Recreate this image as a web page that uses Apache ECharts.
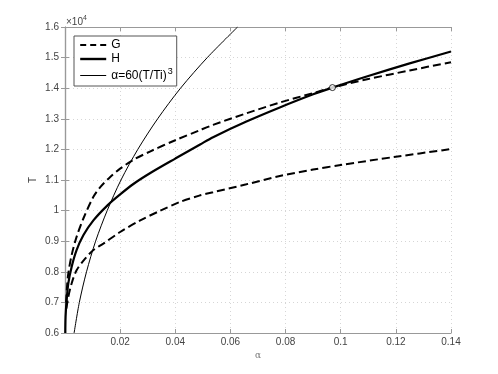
<!DOCTYPE html>
<html>
<head>
<meta charset="utf-8">
<script src="https://cdn.jsdelivr.net/npm/echarts@6/dist/echarts.min.js"></script>
<style>
  html, body { margin: 0; padding: 0; background: #fff; }
  #main { width: 498px; height: 374px; }
</style>
</head>
<body>
<div id="main"></div>
<script>
// upper dashed G curve
var gUpperAlpha = [0.0004, 0.0008, 0.0012, 0.0024, 0.0042, 0.0067, 0.0103, 0.0128, 0.0164, 0.02, 0.0248, 0.0308, 0.04, 0.0487, 0.0537, 0.0658, 0.0779, 0.09, 0.097, 0.11, 0.125, 0.14];
var gUpperT = [7000, 7600, 7950, 8540, 9140, 9750, 10450, 10770, 11100, 11370, 11660, 11930, 12300, 12620, 12800, 13180, 13530, 13840, 14020, 14300, 14580, 14850];

// lower dashed G curve
var gLowerAlpha = [0.0005, 0.0012, 0.0024, 0.0042, 0.0073, 0.0103, 0.0139, 0.02, 0.0273, 0.0344, 0.0416, 0.0487, 0.0537, 0.0658, 0.0779, 0.09, 0.1, 0.12, 0.14];
var gLowerT = [6800, 7180, 7620, 8050, 8430, 8710, 8920, 9300, 9680, 9990, 10280, 10490, 10600, 10860, 11130, 11340, 11490, 11760, 12010];

// thick solid H curve
var hAlpha = [0.0001, 0.0002, 0.0006, 0.0012, 0.0024, 0.0042, 0.0067, 0.0103, 0.0155, 0.02, 0.0248, 0.0308, 0.04, 0.049, 0.0537, 0.0658, 0.0779, 0.09, 0.097, 0.11, 0.125, 0.14];
var hT = [6000, 6530, 7080, 7620, 8160, 8710, 9200, 9680, 10180, 10530, 10870, 11220, 11700, 12160, 12400, 12910, 13370, 13800, 14020, 14400, 14810, 15200];

// thin curve alpha = 60 (T/Ti)^3
var lawAlpha = [0.0033, 0.0052, 0.0078, 0.0111, 0.0153, 0.0203, 0.0264, 0.0336, 0.0419, 0.0516, 0.0626];
var lawT = [6000, 7000, 8000, 9000, 10000, 11000, 12000, 13000, 14000, 15000, 16000];

// marked point where G and H meet
var crossPoint = [0.097, 14020];

var xTicks = [0, 0.02, 0.04, 0.06, 0.08, 0.1, 0.12, 0.14];
var yTicks = [6000, 7000, 8000, 9000, 10000, 11000, 12000, 13000, 14000, 15000, 16000];

function pairs(xs, ys) {
  return xs.map(function (x, i) { return [x, ys[i]]; });
}

var font = 'Liberation Sans, Arial, sans-serif';
var axisGray = '#999';
var labelGray = '#444';

var chart = echarts.init(document.getElementById('main'), null, { renderer: 'canvas' });

var boxAxis = {
  axisLine: { show: true, lineStyle: { color: axisGray, width: 1.2 } },
  axisTick: { show: true, inside: true, length: 4, lineStyle: { color: axisGray } },
  axisLabel: { show: false },
  splitLine: { show: false }
};

var option = {
  animation: false,
  backgroundColor: '#fff',
  textStyle: { fontFamily: font },
  grid: { left: 65, right: 47, top: 27, bottom: 41 },
  legend: {
    left: 74, top: 36,
    orient: 'vertical',
    data: [
      { name: 'G', lineStyle: { width: 2, type: [6, 4] } },
      { name: 'H', lineStyle: { width: 2.4 } },
      { name: 'law', lineStyle: { width: 1 } }
    ],
    backgroundColor: '#fff',
    borderColor: '#555',
    borderWidth: 1,
    borderRadius: 0,
    padding: [3, 4, 2, 5],
    itemWidth: 26,
    itemHeight: 10,
    itemGap: 2,
    itemStyle: { opacity: 0 },
    textStyle: {
      fontSize: 12, lineHeight: 12, color: '#000', fontFamily: font,
      rich: {
        s: { fontSize: 9, lineHeight: 9, color: '#000', padding: [0, 0, 8, 1] }
      }
    },
    formatter: function (name) {
      if (name === 'law') return 'α=60(T/Ti){s|3}';
      return name;
    }
  },
  xAxis: [
    {
      type: 'value', position: 'bottom',
      min: xTicks[0], max: xTicks[xTicks.length - 1], interval: 0.02,
      name: 'α', nameLocation: 'middle', nameGap: 18, nameMoveOverlap: false,
      nameTextStyle: { fontSize: 9, color: '#777', fontFamily: 'DejaVu Serif' },
      axisLine: { show: true, lineStyle: { color: axisGray, width: 1.2 } },
      axisTick: { show: true, inside: true, length: 4, lineStyle: { color: axisGray } },
      axisLabel: {
        color: labelGray, fontSize: 10, margin: 4,
        formatter: function (v) { return v === 0 ? '' : String(parseFloat(v.toFixed(2))); }
      },
      splitLine: { show: true, lineStyle: { color: '#d6d6d6', type: [1, 3] } }
    },
    Object.assign({ type: 'value', position: 'top', min: 0, max: 0.14, interval: 0.02 }, boxAxis)
  ],
  yAxis: [
    {
      type: 'value', position: 'left',
      min: yTicks[0], max: yTicks[yTicks.length - 1], interval: 1000,
      name: 'T', nameLocation: 'middle', nameGap: 27, nameRotate: 90, nameMoveOverlap: false,
      nameTextStyle: { fontSize: 10, color: '#444' },
      axisLine: { show: true, lineStyle: { color: axisGray, width: 1.2 } },
      axisTick: { show: true, inside: true, length: 4, lineStyle: { color: axisGray } },
      axisLabel: {
        color: labelGray, fontSize: 10, margin: 6,
        formatter: function (v) { return String(parseFloat((v / 10000).toFixed(1))); }
      },
      splitLine: { show: true, lineStyle: { color: '#d6d6d6', type: [1, 3] } }
    },
    Object.assign({ type: 'value', position: 'right', min: 6000, max: 16000, interval: 1000 }, boxAxis)
  ],
  graphic: [
    {
      type: 'text', left: 66, top: 15,
      style: {
        text: '×10{s|4}',
        font: '10px ' + font,
        fill: labelGray,
        rich: { s: { fontSize: 7, fill: labelGray, padding: [0, 0, 7, 0] } }
      }
    }
  ],
  series: [
    {
      name: 'G', type: 'line', data: pairs(gUpperAlpha, gUpperT),
      symbol: 'none', smooth: 0.3, clip: true,
      itemStyle: { color: '#000' },
      lineStyle: { color: '#000', width: 2, type: [8, 4] }
    },
    {
      name: 'G', type: 'line', data: pairs(gLowerAlpha, gLowerT),
      symbol: 'none', smooth: 0.3, clip: true,
      itemStyle: { color: '#000' },
      lineStyle: { color: '#000', width: 2, type: [8, 4] }
    },
    {
      name: 'H', type: 'line', data: pairs(hAlpha, hT),
      symbol: 'none', smooth: 0.3, clip: true,
      itemStyle: { color: '#000' },
      lineStyle: { color: '#000', width: 2.2 }
    },
    {
      name: 'law', type: 'line', data: pairs(lawAlpha, lawT),
      symbol: 'none', smooth: 0.3, clip: true,
      itemStyle: { color: '#000' },
      lineStyle: { color: '#000', width: 1 }
    },
    {
      name: 'cross', type: 'scatter', data: [crossPoint],
      symbol: 'circle', symbolSize: 6, z: 5,
      itemStyle: { color: '#fff', borderColor: '#000', borderWidth: 1 }
    }
  ]
};

chart.setOption(option);
</script>
</body>
</html>
